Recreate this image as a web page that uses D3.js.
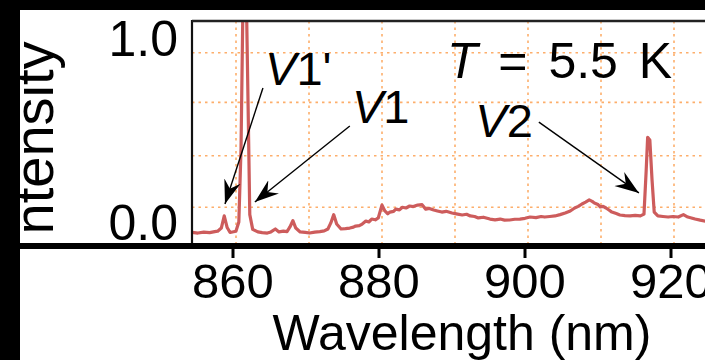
<!DOCTYPE html>
<html>
<head>
<meta charset="utf-8">
<script src="https://cdn.jsdelivr.net/npm/d3@7"></script>
<style>
  html, body { margin: 0; padding: 0; background: #000; }
  svg { display: block; }
  text { font-family: "Liberation Sans", Arial, sans-serif; fill: #000; }
</style>
</head>
<body>
<svg id="chart" width="705" height="360"></svg>
<script>
// --- data ---
const wavelength = [854.4, 855.2, 856.0, 856.8, 857.5, 857.9, 858.4, 858.8, 859.2, 859.6,
  860.4, 860.8, 861.1, 861.4, 861.8, 862.1, 862.3, 862.7, 863.4, 864.0,
  864.7, 865.2, 865.8, 866.3, 866.9, 867.4, 867.8, 868.2, 868.6, 869.2,
  869.9, 870.5, 871.2, 871.9, 872.5, 873.0, 873.4, 873.8, 874.2, 874.8,
  875.4, 876.0, 876.5, 876.8, 877.3, 877.7, 878.2, 878.6, 879.0, 879.5,
  879.9, 880.4, 880.8, 881.2, 881.5, 882.0, 882.3, 882.8, 883.2, 883.7,
  884.2, 884.7, 885.3, 885.9, 886.4, 886.9, 887.5, 888.0, 888.6, 889.2,
  890.0, 890.6, 891.4, 892.0, 892.5, 893.1, 893.6, 894.3, 895.2, 895.9,
  896.6, 897.2, 897.9, 898.6, 899.3, 900.0, 900.7, 901.5, 902.2, 902.7,
  903.4, 904.1, 904.8, 905.5, 906.2, 906.8, 907.3, 907.8, 908.3, 908.8,
  909.2, 909.5, 910.0, 910.3, 910.7, 911.1, 911.5, 911.9, 912.5, 913.0,
  913.7, 914.4, 915.1, 915.8, 916.3, 916.6, 916.8, 917.1, 917.4, 917.7,
  918.2, 918.9, 919.6, 920.3, 921.0, 921.7, 922.3, 922.8, 923.3, 924.0,
  924.7];
const intensity = [-0.056, -0.06, -0.055, -0.058, -0.052, -0.05, -0.033, 0.033, -0.03, -0.057,
  -0.05, 0.0, 0.4, 1.3, 1.3, 0.55, 0.04, -0.04, -0.054, -0.058,
  -0.06, -0.054, -0.038, -0.054, -0.05, -0.052, -0.027, 0.007, -0.033, -0.054,
  -0.056, -0.06, -0.055, -0.052, -0.048, -0.038, -0.005, 0.04, -0.011, -0.038,
  -0.036, -0.033, -0.028, -0.022, -0.02, -0.011, 0.005, 0.0, 0.016, 0.012,
  0.022, 0.092, 0.06, 0.045, 0.054, 0.058, 0.07, 0.066, 0.08, 0.076,
  0.087, 0.084, 0.092, 0.094, 0.07, 0.074, 0.065, 0.06, 0.054, 0.058,
  0.049, 0.044, 0.038, 0.042, 0.033, 0.03, 0.022, 0.026, 0.016, 0.012,
  0.016, 0.01, 0.011, 0.015, 0.016, 0.02, 0.027, 0.024, 0.03, 0.027,
  0.03, 0.033, 0.04, 0.049, 0.06, 0.076, 0.085, 0.098, 0.108, 0.12,
  0.112, 0.103, 0.095, 0.082, 0.085, 0.076, 0.065, 0.054, 0.046, 0.038,
  0.035, 0.033, 0.036, 0.033, 0.043, 0.28, 0.46, 0.446, 0.23, 0.054,
  0.033, 0.03, 0.027, 0.03, 0.027, 0.04, 0.027, 0.022, 0.016, 0.01,
  0.005];

const xTicks = [860, 880, 900, 920];
const yTicks = [0, 1];
const xGrid  = [860, 870, 880, 890, 900, 910, 920];
const yGrid  = [0.08, 0.36, 0.65, 0.92];

// annotation labels and arrows (data coords)
const arrowLabels = [
  { name: "V", sub: "1'", x: 864.4, y: 0.745, from: [864.1, 0.728], to: [858.9, 0.098] },
  { name: "V", sub: "1",  x: 876.3, y: 0.538, from: [876.0, 0.522], to: [863.0, 0.109] },
  { name: "V", sub: "2",  x: 893.2, y: 0.462, from: [901.9, 0.543], to: [915.6, 0.158] }
];
const tempLabel = { x: 889.3, y: 0.783, value: "5.5 K" };

// --- layout ---
const W = 705, H = 360;
const frame = { left: 192, top: 21, bottom: 243 };

const svg = d3.select("#chart");

const x = d3.scaleLinear().domain([860, 920]).range([233, 671]);
const y = d3.scaleLinear().domain([0, 1]).range([222, 38]);

// white panel on black page
svg.append("rect").attr("x", 20).attr("y", 10).attr("width", W - 20).attr("height", H - 10)
  .attr("fill", "#fff");

const defs = svg.append("defs");
defs.append("clipPath").attr("id", "plotClip")
  .append("rect").attr("x", frame.left).attr("y", frame.top)
  .attr("width", W - frame.left).attr("height", frame.bottom - frame.top);
defs.append("clipPath").attr("id", "titleClip")
  .append("rect").attr("x", 0).attr("y", 0).attr("width", 120).attr("height", 236);
defs.append("marker")
  .attr("id", "head").attr("viewBox", "-24 -10 26 20")
  .attr("refX", 0).attr("refY", 0)
  .attr("markerWidth", 26).attr("markerHeight", 20)
  .attr("markerUnits", "userSpaceOnUse")
  .attr("orient", "auto")
  .append("path").attr("d", "M0,0 L-24,-8.5 L-16,0 L-24,8.5 Z").attr("fill", "#000");

// grid
const grid = svg.append("g").attr("clip-path", "url(#plotClip)")
  .attr("stroke", "#fdae6b").attr("stroke-width", 1.6).attr("stroke-dasharray", "2.5,4");
grid.selectAll(".vg").data(xGrid).enter().append("line")
  .attr("x1", d => x(d) + 3).attr("x2", d => x(d) + 3)
  .attr("y1", frame.top).attr("y2", frame.bottom);
grid.selectAll(".hg").data(yGrid).enter().append("line")
  .attr("x1", frame.left).attr("x2", W)
  .attr("y1", d => y(d)).attr("y2", d => y(d));

// spectrum
const pts = wavelength.map((w, i) => [w, intensity[i]]);
svg.append("path")
  .datum(pts)
  .attr("clip-path", "url(#plotClip)")
  .attr("fill", "none")
  .attr("stroke", "#cd5c5c")
  .attr("stroke-width", 3.2)
  .attr("stroke-linejoin", "round")
  .attr("d", d3.line().x(d => x(d[0])).y(d => y(d[1])));

// frame
svg.append("line").attr("x1", frame.left).attr("x2", frame.left)
  .attr("y1", frame.top - 1).attr("y2", frame.bottom)
  .attr("stroke", "#111").attr("stroke-width", 2.2);
svg.append("line").attr("x1", frame.left).attr("x2", W)
  .attr("y1", frame.top).attr("y2", frame.top)
  .attr("stroke", "#222").attr("stroke-width", 2.5);

// thick black band under the panel
svg.append("rect").attr("x", 20).attr("y", frame.bottom).attr("width", W - 20).attr("height", 6)
  .attr("fill", "#000");

// x axis
const xAxis = svg.append("g");
xAxis.selectAll(".tick").data(xTicks).enter().append("line")
  .attr("x1", d => x(d)).attr("x2", d => x(d))
  .attr("y1", frame.bottom + 6).attr("y2", frame.bottom + 15)
  .attr("stroke", "#000").attr("stroke-width", 3);
xAxis.selectAll(".lbl").data(xTicks).enter().append("text")
  .attr("x", d => x(d)).attr("y", 298)
  .attr("text-anchor", "middle")
  .style("font-size", "49px")
  .text(d => d);
svg.append("text")
  .attr("x", 462).attr("y", 350)
  .attr("text-anchor", "middle")
  .style("font-size", "50px")
  .text("Wavelength (nm)");

// y axis labels
svg.selectAll(".ylbl").data(yTicks).enter().append("text")
  .attr("x", 178).attr("y", d => y(d))
  .attr("dy", "0.36em")
  .attr("text-anchor", "end")
  .style("font-size", "50px")
  .text(d => d3.format(".1f")(d));
// axis title, its first letter falls below the visible panel
svg.append("g").attr("clip-path", "url(#titleClip)")
  .append("text")
  .attr("transform", "translate(53,250) rotate(-90)")
  .attr("text-anchor", "start")
  .style("font-size", "56px")
  .text("Intensity");

// annotations
const ann = svg.append("g");
arrowLabels.forEach(a => {
  ann.append("line")
    .attr("x1", x(a.from[0])).attr("y1", y(a.from[1]))
    .attr("x2", x(a.to[0])).attr("y2", y(a.to[1]))
    .attr("stroke", "#000").attr("stroke-width", 1.4)
    .attr("marker-end", "url(#head)");
  const t = ann.append("text")
    .attr("x", x(a.x)).attr("y", y(a.y))
    .style("font-size", "47px");
  t.append("tspan").style("font-style", "italic").text(a.name);
  t.append("tspan").text(a.sub);
});
const tt = ann.append("text")
  .attr("x", x(tempLabel.x)).attr("y", y(tempLabel.y))
  .style("font-size", "50px")
  .style("word-spacing", "7px");
tt.append("tspan").style("font-style", "italic").text("T");
tt.append("tspan").text(" = " + tempLabel.value);
</script>
</body>
</html>
